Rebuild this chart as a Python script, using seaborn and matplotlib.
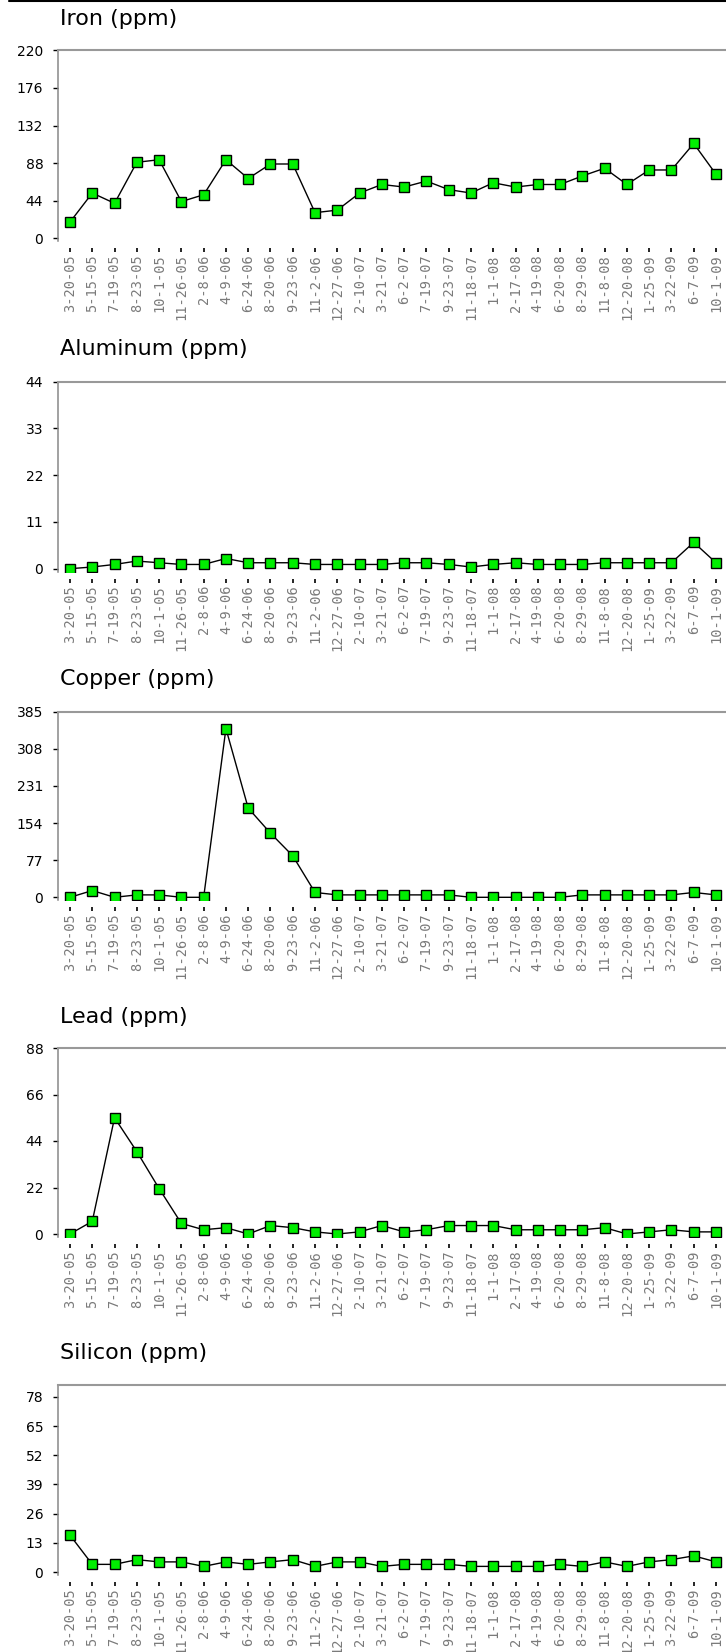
import numpy as np
import pandas as pd
import seaborn as sns
import matplotlib.pyplot as plt
from matplotlib.lines import Line2D

dates = ['3-20-05', '5-15-05', '7-19-05', '8-23-05', '10-1-05', '11-26-05',
         '2-8-06', '4-9-06', '6-24-06', '8-20-06', '9-23-06', '11-2-06',
         '12-27-06', '2-10-07', '3-21-07', '6-2-07', '7-19-07', '9-23-07',
         '11-18-07', '1-1-08', '2-17-08', '4-19-08', '6-20-08', '8-29-08',
         '11-8-08', '12-20-08', '1-25-09', '3-22-09', '6-7-09', '10-1-09']

iron = [19, 53, 41, 89, 92, 43, 51, 92, 70, 87, 87, 30, 33, 53, 63,
        60, 67, 57, 53, 65, 60, 63, 63, 73, 82, 63, 80, 80, 111, 75]
aluminum = [0, 0.4, 1, 1.8, 1.4, 1, 1, 2.4, 1.4, 1.4, 1.4, 1, 1, 1, 1,
            1.4, 1.4, 1, 0.4, 1, 1.4, 1, 1, 1, 1.4, 1.4, 1.4, 1.4, 6.2, 1.4]
copper = [0, 14, 0, 5, 5, 0, 0, 350, 185, 133, 86, 10, 5, 5, 5,
          5, 5, 5, 0, 0, 0, 0, 0, 5, 5, 5, 5, 5, 10, 5]
lead = [0, 6, 55, 39, 21.5, 5, 2, 3, 0, 4, 3, 1, 0, 1, 4,
        1, 2, 4, 4, 4, 2, 2, 2, 2, 3, 0, 1, 2, 1, 1]
silicon = [16.4, 3.4, 3.4, 5.5, 4.5, 4.5, 2.5, 4.5, 3.4, 4.5, 5.5, 2.5, 4.5, 4.5, 2.5,
           3.4, 3.4, 3.4, 2.5, 2.5, 2.5, 2.5, 3.4, 2.5, 4.5, 2.5, 4.5, 5.5, 7.2, 4.5]

iron_ticks = [0, 44, 88, 132, 176, 220]
aluminum_ticks = [0, 11, 22, 33, 44]
copper_ticks = [0, 77, 154, 231, 308, 385]
lead_ticks = [0, 22, 44, 66, 88]
silicon_ticks = [0, 13, 26, 39, 52, 65, 78]

sns.set_theme(style='white')
plt.rcParams['font.family'] = ['DejaVu Sans']

W, H = 726, 1652
fig = plt.figure(figsize=(W / 100, H / 100), dpi=100)

# title, values, ticks, ymax, axes top (px), zero line (px), title baseline (px)
panels = [
    ('Iron (ppm)', iron, iron_ticks, 220, 50.4, 238.3, 25),
    ('Aluminum (ppm)', aluminum, aluminum_ticks, 44, 381.7, 568.7, 355),
    ('Copper (ppm)', copper, copper_ticks, 385, 711.7, 897.3, 685),
    ('Lead (ppm)', lead, lead_ticks, 88, 1048, 1234, 1023),
    ('Silicon (ppm)', silicon, silicon_ticks, 83.3, 1385, 1572, 1359),
]

left_px, right_px = 58, 726
first_px = 70
step = (716 - 70) / (len(dates) - 1)

for title, vals, ticks, ymax, top_px, zero_px, title_px in panels:
    ppu = (zero_px - top_px) / ymax
    bottom_px = zero_px + 3
    ax = fig.add_axes([left_px / W, 1 - bottom_px / H,
                       (right_px - left_px) / W, (bottom_px - top_px) / H])
    df = pd.DataFrame({'pos': np.arange(len(dates)), 'ppm': vals})
    sns.lineplot(data=df, x='pos', y='ppm', ax=ax, color='black', lw=1,
                 marker='s', ms=7, mfc='#00ee00', mec='black', mew=1)

    # spine position first: it resets the ticks
    ax.spines['right'].set_visible(False)
    ax.spines['bottom'].set_color('none')
    ax.spines['bottom'].set_position(('outward', 5))
    ax.spines['left'].set_color('#888888')
    ax.spines['left'].set_linewidth(1.1)
    ax.spines['top'].set_color('#999999')
    ax.spines['top'].set_linewidth(1.5)

    ax.set_xlim(-(first_px - left_px) / step, (right_px - first_px) / step)
    ax.set_ylim(-3 / ppu, ymax)
    ax.set_xticks(range(len(dates)))
    ax.set_xticklabels(dates, rotation=90, fontfamily='DejaVu Sans Mono',
                       fontsize=9.8, color='#7a7a7a')
    ax.set_yticks(ticks)
    ax.set_yticklabels([str(t) for t in ticks], fontsize=10, color='black')
    ax.set_xlabel('')
    ax.set_ylabel('')

    ax.tick_params(axis='x', bottom=True, length=2.9, width=1.2,
                   color='black', pad=1.5)
    ax.tick_params(axis='y', left=True, length=3.6, width=1,
                   color='black', pad=7)

    fig.text(60 / W, 1 - title_px / H, title, fontsize=16, va='baseline',
             ha='left', color='black')

fig.add_artist(Line2D([9 / W, 1], [1 - 0.8 / H, 1 - 0.8 / H],
                      color='black', lw=1.5))

fig.savefig('out.png', dpi=100)
